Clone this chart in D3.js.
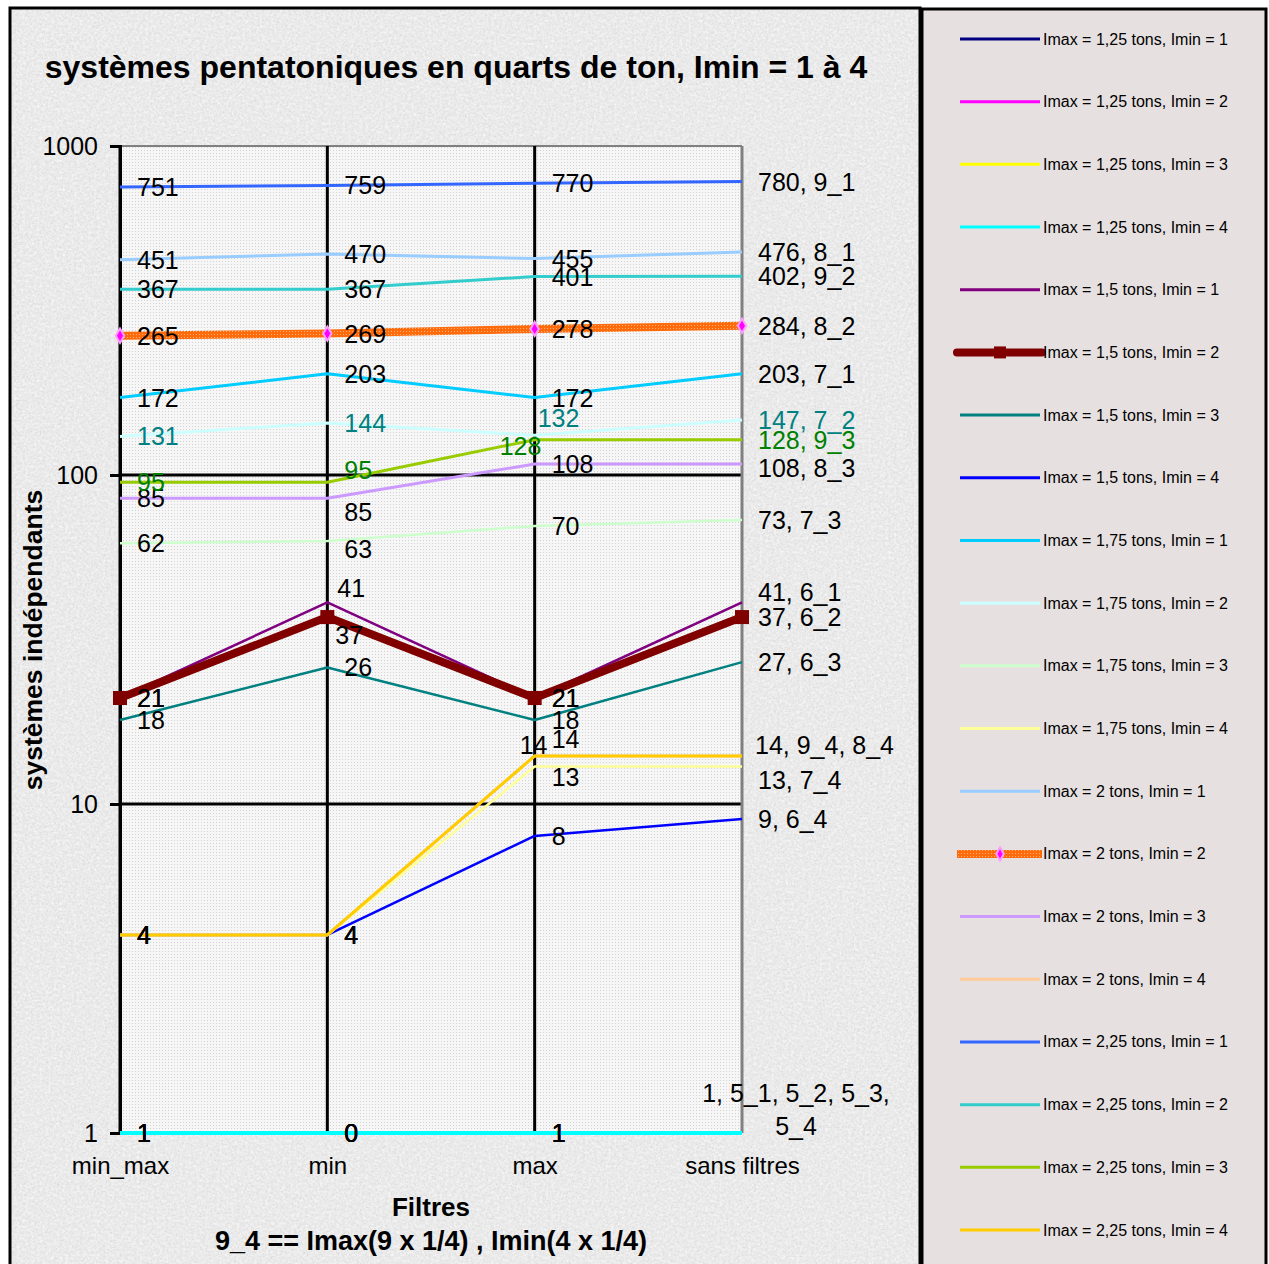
<!DOCTYPE html>
<html>
<head>
<meta charset="utf-8">
<script src="https://cdn.jsdelivr.net/npm/d3@7"></script>
<style>
  html, body { margin: 0; padding: 0; background: #ffffff; }
  svg { display: block; font-family: "Liberation Sans", Arial, sans-serif; }
</style>
</head>
<body>
<svg id="chart" width="1269" height="1264"></svg>
<script>
// ---------- DATA ----------
const categories = ["min_max", "min", "max", "sans filtres"];
const yTickValues = [1, 10, 100, 1000];

const seriesNames = [
  "Imax = 1,25 tons, Imin = 1", "Imax = 1,25 tons, Imin = 2", "Imax = 1,25 tons, Imin = 3", "Imax = 1,25 tons, Imin = 4",
  "Imax = 1,5 tons, Imin = 1",  "Imax = 1,5 tons, Imin = 2",  "Imax = 1,5 tons, Imin = 3",  "Imax = 1,5 tons, Imin = 4",
  "Imax = 1,75 tons, Imin = 1", "Imax = 1,75 tons, Imin = 2", "Imax = 1,75 tons, Imin = 3", "Imax = 1,75 tons, Imin = 4",
  "Imax = 2 tons, Imin = 1",    "Imax = 2 tons, Imin = 2",    "Imax = 2 tons, Imin = 3",    "Imax = 2 tons, Imin = 4",
  "Imax = 2,25 tons, Imin = 1", "Imax = 2,25 tons, Imin = 2", "Imax = 2,25 tons, Imin = 3", "Imax = 2,25 tons, Imin = 4"
];

const seriesValues = [
  [1, 0, 1, 1],        // 5_1
  [1, 0, 1, 1],        // 5_2
  [1, 0, 1, 1],        // 5_3
  [1, 0, 1, 1],        // 5_4
  [21, 41, 21, 41],    // 6_1
  [21, 37, 21, 37],    // 6_2
  [18, 26, 18, 27],    // 6_3
  [4, 4, 8, 9],        // 6_4
  [172, 203, 172, 203],// 7_1
  [131, 144, 132, 147],// 7_2
  [62, 63, 70, 73],    // 7_3
  [4, 4, 13, 13],      // 7_4
  [451, 470, 455, 476],// 8_1
  [265, 269, 278, 284],// 8_2
  [85, 85, 108, 108],  // 8_3
  [4, 4, 14, 14],      // 8_4
  [751, 759, 770, 780],// 9_1
  [367, 367, 401, 402],// 9_2
  [95, 95, 128, 128],  // 9_3
  [4, 4, 14, 14]       // 9_4
];

const endLabels = [
  null, null, null, "1, 5_1, 5_2, 5_3,\n5_4",
  "41, 6_1", "37, 6_2", "27, 6_3", "9, 6_4",
  "203, 7_1", "147, 7_2", "73, 7_3", "13, 7_4",
  "476, 8_1", "284, 8_2", "108, 8_3", null,
  "780, 9_1", "402, 9_2", "128, 9_3", "14, 9_4, 8_4"
];

// ---------- STYLES ----------
const seriesColors = [
  "#000080", "#FF00FF", "#FFFF00", "#00FFFF",
  "#800080", "#800000", "#008080", "#0000FF",
  "#00CCFF", "#CCFFFF", "#CCFFCC", "#FFFF99",
  "#99CCFF", "#FF6600", "#CC99FF", "#FFCC99",
  "#3366FF", "#33CCCC", "#99CC00", "#FFCC00"
];
const seriesWidths = [3, 3, 3, 4, 2.5, 8, 2.5, 2.5, 3, 3, 2.5, 2.5, 3, 8, 3, 3, 3, 3, 3, 3];
const labelColors = seriesColors.map((c, i) => i === 9 ? "#008080" : (i === 18 ? "#008000" : "#000000"));
// manual data-label nudges, key = "series-category"
const labelNudges = {
  "18-1": [0, -12], "14-1": [0, 14], "10-1": [0, 8], "4-1": [-7, -14], "5-1": [-9, 18],
  "9-2": [-14, -17], "18-2": [-52, 6], "19-2": [0, -17], "15-2": [-32, -11], "11-2": [0, 10],
  "14-3": [0, 4], "4-3": [0, -10], "19-3": [-3, -11], "11-3": [0, 13]
};

// ---------- LAYOUT ----------
const svg = d3.select("#chart");
const plot = { left: 120, right: 742, top: 146, bottom: 1133 };

const x = d3.scalePoint().domain(categories).range([plot.left, plot.right]);
const y = d3.scaleLog().domain([1, 1000]).range([plot.bottom, plot.top]).clamp(true);

const defs = svg.append("defs");
// granite-like texture
const f = defs.append("filter").attr("id", "granite").attr("x", 0).attr("y", 0).attr("width", 1).attr("height", 1);
f.append("feTurbulence").attr("type", "fractalNoise").attr("baseFrequency", 0.55).attr("numOctaves", 3).attr("seed", 7).attr("result", "n");
f.append("feColorMatrix").attr("in", "n").attr("type", "matrix")
  .attr("values", "0 0 0 0 0.62  0 0 0 0 0.62  0 0 0 0 0.62  2.2 0 0 0 -0.95");
const f2 = defs.append("filter").attr("id", "granite2").attr("x", 0).attr("y", 0).attr("width", 1).attr("height", 1);
f2.append("feTurbulence").attr("type", "fractalNoise").attr("baseFrequency", 0.35).attr("numOctaves", 2).attr("seed", 3).attr("result", "n");
f2.append("feColorMatrix").attr("in", "n").attr("type", "matrix")
  .attr("values", "0 0 0 0 1  0 0 0 0 1  0 0 0 0 1  0 2.2 0 0 -0.9");

// plot-area dots
const pd = defs.append("pattern").attr("id", "plotDots").attr("width", 3).attr("height", 3).attr("patternUnits", "userSpaceOnUse");
pd.append("rect").attr("width", 3).attr("height", 3).attr("fill", "#f6f6f6");
pd.append("rect").attr("width", 1).attr("height", 1).attr("fill", "#d2d2d2");
// orange textured stroke
const op = defs.append("pattern").attr("id", "orangeTex").attr("width", 3).attr("height", 3).attr("patternUnits", "userSpaceOnUse");
op.append("rect").attr("width", 3).attr("height", 3).attr("fill", "#FF6A0A");
op.append("rect").attr("x", 1).attr("y", 1).attr("width", 1).attr("height", 1).attr("fill", "#FFB27A");

// outer chart background
svg.append("rect").attr("x", 10).attr("y", 8).attr("width", 910).attr("height", 1262).attr("fill", "#eaeaea");
svg.append("rect").attr("x", 10).attr("y", 8).attr("width", 910).attr("height", 1262).attr("filter", "url(#granite)").attr("opacity", 0.6);
svg.append("rect").attr("x", 10).attr("y", 8).attr("width", 910).attr("height", 1262).attr("filter", "url(#granite2)").attr("opacity", 0.6);
svg.append("rect").attr("x", 10).attr("y", 8).attr("width", 910).attr("height", 1262)
  .attr("fill", "none").attr("stroke", "#000").attr("stroke-width", 3);

// legend panel
svg.append("rect").attr("x", 922).attr("y", 9).attr("width", 344).attr("height", 1262)
  .attr("fill", "#e7e0e0").attr("stroke", "#000").attr("stroke-width", 3);

// plot background
svg.append("rect").attr("x", plot.left).attr("y", plot.top)
  .attr("width", plot.right - plot.left).attr("height", plot.bottom - plot.top).attr("fill", "url(#plotDots)");

// title
svg.append("text").attr("x", 456).attr("y", 78).attr("text-anchor", "middle")
  .attr("font-size", 32).attr("font-weight", "bold").attr("fill", "#000")
  .text("systèmes pentatoniques en quarts de ton, Imin = 1 à 4");

// gridlines
const grid = svg.append("g");
grid.selectAll("line.h").data(yTickValues.filter(v => v > 1 && v < 1000)).join("line")
  .attr("x1", plot.left).attr("x2", plot.right).attr("y1", d => y(d)).attr("y2", d => y(d))
  .attr("stroke", "#000").attr("stroke-width", 3);
grid.append("line").attr("x1", plot.left).attr("x2", plot.right).attr("y1", y(1000)).attr("y2", y(1000))
  .attr("stroke", "#808080").attr("stroke-width", 2);
grid.selectAll("line.v").data(categories.slice(0, 3)).join("line")
  .attr("x1", d => x(d)).attr("x2", d => x(d)).attr("y1", plot.top).attr("y2", plot.bottom)
  .attr("stroke", "#000").attr("stroke-width", 3);
grid.append("line").attr("x1", x(categories[3])).attr("x2", x(categories[3])).attr("y1", plot.top).attr("y2", plot.bottom)
  .attr("stroke", "#808080").attr("stroke-width", 3);
grid.append("line").attr("x1", plot.left).attr("x2", plot.right).attr("y1", plot.bottom).attr("y2", plot.bottom)
  .attr("stroke", "#000").attr("stroke-width", 2);

// y axis
const yAxis = svg.append("g").attr("transform", `translate(${plot.left},0)`)
  .call(d3.axisLeft(y).tickValues(yTickValues).tickFormat(d3.format("d")).tickSize(10).tickPadding(12));
yAxis.select(".domain").attr("stroke", "#000").attr("stroke-width", 3);
yAxis.selectAll(".tick line").attr("stroke", "#000").attr("stroke-width", 3);
yAxis.selectAll(".tick text").attr("font-size", 25).attr("fill", "#000")
  .attr("font-family", "Liberation Sans, Arial, sans-serif").attr("dy", "0.35em");

// x axis
const xAxis = svg.append("g").attr("transform", `translate(0,${plot.bottom})`)
  .call(d3.axisBottom(x).tickSize(0).tickPadding(24));
xAxis.select(".domain").remove();
xAxis.selectAll(".tick text").attr("font-size", 24).attr("fill", "#000")
  .attr("font-family", "Liberation Sans, Arial, sans-serif");

// axis titles
svg.append("text").attr("transform", "translate(33,640) rotate(-90)").attr("text-anchor", "middle")
  .attr("dominant-baseline", "central").attr("font-size", 26.5).attr("font-weight", "bold").text("systèmes indépendants");
svg.append("text").attr("x", 431).attr("y", 1216).attr("text-anchor", "middle")
  .attr("font-size", 26).attr("font-weight", "bold").text("Filtres");
svg.append("text").attr("x", 431).attr("y", 1250).attr("text-anchor", "middle")
  .attr("font-size", 27).attr("font-weight", "bold").text("9_4 == Imax(9 x 1/4) , Imin(4 x 1/4)");

// series lines
const line = d3.line().x((d, i) => x(categories[i])).y(d => y(d));
const lines = svg.append("g");
seriesValues.forEach((vals, s) => {
  lines.append("path").datum(vals)
    .attr("d", line)
    .attr("fill", "none")
    .attr("stroke", s === 13 ? "url(#orangeTex)" : seriesColors[s])
    .attr("stroke-width", seriesWidths[s])
    .attr("stroke-linejoin", "round");
  if (s === 5) {
    lines.selectAll(null).data(vals).join("path")
      .attr("transform", (d, i) => `translate(${x(categories[i])},${y(d)})`)
      .attr("d", d3.symbol(d3.symbolSquare, 196))
      .attr("fill", "#800000");
  }
  if (s === 13) {
    lines.selectAll(null).data(vals).join("path")
      .attr("transform", (d, i) => `translate(${x(categories[i])},${y(d)})`)
      .attr("d", d3.symbol(d3.symbolDiamond, 60))
      .attr("fill", "#FF00FF").attr("stroke", "#FF9CFF").attr("stroke-width", 2);
  }
});

// data labels
const labels = svg.append("g").attr("font-size", 25);
seriesValues.forEach((vals, s) => {
  vals.forEach((v, c) => {
    const nudge = labelNudges[`${s}-${c}`] || [0, 0];
    const px = x(categories[c]), py = y(v);
    if (c < 3) {
      labels.append("text")
        .attr("x", px + 17 + nudge[0]).attr("y", py + nudge[1])
        .attr("dominant-baseline", "central").attr("fill", labelColors[s])
        .text(String(v));
    } else if (endLabels[s]) {
      const parts = endLabels[s].split("\n");
      if (parts.length === 1) {
        labels.append("text")
          .attr("x", px + 16 + nudge[0]).attr("y", py + nudge[1])
          .attr("dominant-baseline", "central").attr("fill", labelColors[s])
          .text(parts[0]);
      } else {
        parts.forEach((p, k) => {
          labels.append("text")
            .attr("x", px + 54).attr("y", py - 40 + k * 33)
            .attr("text-anchor", "middle").attr("dominant-baseline", "central")
            .attr("fill", labelColors[s]).text(p);
        });
      }
    }
  });
});

// legend
const legend = svg.append("g");
const legY = d3.scalePoint().domain(d3.range(seriesNames.length)).range([39, 1230]);
seriesNames.forEach((name, s) => {
  const ly = legY(s);
  const thick = (s === 5 || s === 13);
  legend.append("line").attr("x1", thick ? 957 : 960).attr("x2", thick ? 1042 : 1040)
    .attr("y1", ly).attr("y2", ly)
    .attr("stroke", s === 13 ? "url(#orangeTex)" : seriesColors[s])
    .attr("stroke-width", thick ? 8 : 3)
    .attr("stroke-linecap", s === 5 ? "round" : "butt");
  if (s === 5) {
    legend.append("path").attr("transform", `translate(1000,${ly})`)
      .attr("d", d3.symbol(d3.symbolSquare, 144)).attr("fill", "#800000");
  }
  if (s === 13) {
    legend.append("path").attr("transform", `translate(1000,${ly})`)
      .attr("d", d3.symbol(d3.symbolDiamond, 50)).attr("fill", "#FF00FF").attr("stroke", "#FF9CFF").attr("stroke-width", 2);
  }
  legend.append("text").attr("x", 1043).attr("y", ly).attr("dominant-baseline", "central")
    .attr("font-size", 16).attr("fill", "#000").text(name);
});
</script>
</body>
</html>
